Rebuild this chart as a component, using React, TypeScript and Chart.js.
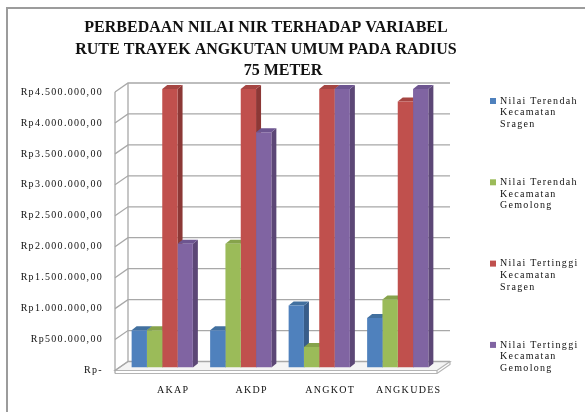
import React, { useEffect, useRef } from "react";
import { Chart, registerables } from "chart.js";

Chart.register(...registerables);

const titleLines = [
  "PERBEDAAN NILAI NIR TERHADAP VARIABEL",
  "RUTE TRAYEK ANGKUTAN UMUM PADA RADIUS",
  "75 METER",
];
const categories = ["AKAP", "AKDP", "ANGKOT", "ANGKUDES"];
const seriesNames = [
  ["Nilai Terendah", "Kecamatan", "Sragen"],
  ["Nilai Terendah", "Kecamatan", "Gemolong"],
  ["Nilai Tertinggi", "Kecamatan", "Sragen"],
  ["Nilai Tertinggi", "Kecamatan", "Gemolong"],
];
const terendahSragen = [600000, 600000, 1000000, 800000];
const terendahGemolong = [600000, 2000000, 330000, 1100000];
const tertinggiSragen = [4500000, 4500000, 4500000, 4300000];
const tertinggiGemolong = [2000000, 3800000, 4500000, 4500000];
const yMin = 0;
const yMax = 4500000;
const yStep = 500000;

const frontColors = ["#4F81BD", "#9BBB59", "#C0504D", "#8064A2"];
const sideColors = ["#385D8A", "#71893F", "#8C3836", "#5C4776"];
const topColors = ["#42709F", "#86A34B", "#A54542", "#6D5590"];

function formatRp(v: number): string {
  if (v === 0) return "Rp-";
  const s = String(Math.round(v)).replace(/\B(?=(\d{3})+(?!\d))/g, ".");
  return "Rp" + s + ",00";
}

const SERIF = '"Liberation Serif", "Times New Roman", serif';

const framePlugin = {
  id: "frame",
  beforeDraw(chart: any) {
    const ctx = chart.ctx;
    ctx.save();
    ctx.fillStyle = "#ffffff";
    ctx.fillRect(0, 0, chart.width, chart.height);
    ctx.strokeStyle = "#9c9c9c";
    ctx.lineWidth = 2;
    ctx.beginPath();
    ctx.moveTo(7, chart.height);
    ctx.lineTo(7, 8);
    ctx.lineTo(chart.width, 8);
    ctx.stroke();
    ctx.restore();
    (ctx as any).letterSpacing = "1.3px";
  },
};

const DX = 5;
const DY = -4;

const walls3dPlugin = {
  id: "walls3d",
  beforeDatasetsDraw(chart: any) {
    const ctx = chart.ctx;
    const area = chart.chartArea;
    const ys = chart.scales.y;
    const fx = area.left - 8;
    const bx = area.left + 5;
    const rx = area.right + 13;
    const front = (v: number) => ys.getPixelForValue(v) + 3;
    const back = (v: number) => ys.getPixelForValue(v) - 6;
    ctx.save();
    // floor
    ctx.fillStyle = "#f4f4f4";
    ctx.strokeStyle = "#b4b4b4";
    ctx.lineWidth = 1.2;
    ctx.beginPath();
    ctx.moveTo(fx, front(yMin));
    ctx.lineTo(bx, back(yMin));
    ctx.lineTo(rx, back(yMin));
    ctx.lineTo(area.right, front(yMin));
    ctx.closePath();
    ctx.fill();
    ctx.stroke();
    ctx.beginPath();
    ctx.moveTo(fx, front(yMin) + 3);
    ctx.lineTo(area.right, front(yMin) + 3);
    ctx.lineTo(rx, back(yMin) + 3);
    ctx.lineTo(rx, back(yMin));
    ctx.moveTo(area.right, front(yMin));
    ctx.lineTo(area.right, front(yMin) + 3);
    ctx.stroke();
    // gridlines
    ctx.strokeStyle = "#a8a8a8";
    ctx.lineWidth = 1.3;
    for (let v = yMin; v <= yMax; v += yStep) {
      ctx.beginPath();
      ctx.moveTo(fx, front(v));
      ctx.lineTo(bx, back(v));
      ctx.lineTo(rx, back(v));
      ctx.stroke();
    }
    ctx.beginPath();
    ctx.moveTo(fx, front(yMax));
    ctx.lineTo(fx, front(yMin) + 3);
    ctx.moveTo(bx, back(yMax));
    ctx.lineTo(bx, back(yMin));
    ctx.stroke();
    // 3D faces of bars (drawn before fronts so neighbours cover them)
    chart.data.datasets.forEach((ds: any, di: number) => {
      const meta = chart.getDatasetMeta(di);
      meta.data.forEach((bar: any) => {
        const w = bar.width;
        const xl = bar.x - w / 2;
        const xr = bar.x + w / 2;
        const yt = bar.y;
        const yb = bar.base;
        ctx.fillStyle = sideColors[di];
        ctx.beginPath();
        ctx.moveTo(xr, yt);
        ctx.lineTo(xr + DX, yt + DY);
        ctx.lineTo(xr + DX, yb + DY);
        ctx.lineTo(xr, yb);
        ctx.closePath();
        ctx.fill();
        ctx.fillStyle = topColors[di];
        ctx.beginPath();
        ctx.moveTo(xl, yt);
        ctx.lineTo(xl + DX, yt + DY);
        ctx.lineTo(xr + DX, yt + DY);
        ctx.lineTo(xr, yt);
        ctx.closePath();
        ctx.fill();
      });
    });
    ctx.restore();
  },
};

const textPlugin = {
  id: "texts",
  afterDraw(chart: any) {
    const ctx = chart.ctx;
    ctx.save();
    (ctx as any).letterSpacing = "0px";
    ctx.fillStyle = "#111111";
    ctx.font = "bold 16px " + SERIF;
    ctx.textAlign = "center";
    ctx.textBaseline = "middle";
    const titleX = [266, 266, 283];
    titleLines.forEach((t, i) => ctx.fillText(t, titleX[i], 28 + i * 21.5));

    // legend
    (ctx as any).letterSpacing = "1.3px";
    ctx.font = "10px " + SERIF;
    ctx.textAlign = "left";
    chart.data.datasets.forEach((ds: any, i: number) => {
      const y0 = 101 + i * 81.3;
      ctx.fillStyle = ds.backgroundColor;
      ctx.fillRect(490, y0 - 3, 6, 6);
      ctx.fillStyle = "#111111";
      const lines: string[] = seriesNames[i];
      lines.forEach((l, j) => ctx.fillText(l, 500, y0 + j * 11.7));
    });
    ctx.restore();
  },
};

export default function App() {
  const ref = useRef<HTMLCanvasElement | null>(null);
  useEffect(() => {
    if (!ref.current) return;
    const seriesData = [terendahSragen, terendahGemolong, tertinggiSragen, tertinggiGemolong];
    const chart = new Chart(ref.current, {
      type: "bar",
      data: {
        labels: categories,
        datasets: seriesData.map((d, i) => ({
          label: seriesNames[i].join(" "),
          data: d,
          backgroundColor: frontColors[i],
          borderWidth: 0,
          categoryPercentage: 0.78,
          barPercentage: 1,
        })),
      },
      options: {
        animation: false,
        responsive: false,
        maintainAspectRatio: false,
        devicePixelRatio: 1,
        layout: { padding: { top: 89, right: 148, left: 0, bottom: 0 } },
        plugins: {
          legend: { display: false },
          title: { display: false },
          tooltip: { enabled: false },
        },
        scales: {
          x: {
            grid: { display: false, drawTicks: false },
            border: { display: false },
            ticks: {
              font: { family: SERIF, size: 10 },
              color: "#111111",
              padding: 17,
              labelOffset: 11,
              maxRotation: 0,
              autoSkip: false,
            },
            afterFit: (s: any) => {
              s.height = 44.5;
            },
          },
          y: {
            min: yMin,
            max: yMax,
            grid: { display: false, drawTicks: false },
            border: { display: false },
            ticks: {
              stepSize: yStep,
              callback: (v: any) => formatRp(Number(v)),
              font: { family: SERIF, size: 10 },
              color: "#111111",
              padding: 20,
              labelOffset: 3,
            },
            afterFit: (s: any) => {
              s.width = 123;
            },
          },
        },
      } as any,
      plugins: [framePlugin, walls3dPlugin, textPlugin],
    });
    return () => chart.destroy();
  }, []);
  return (
    <canvas
      ref={ref}
      width={585}
      height={412}
      style={{ position: "fixed", left: 0, top: 0, width: 585, height: 412 }}
    />
  );
}
